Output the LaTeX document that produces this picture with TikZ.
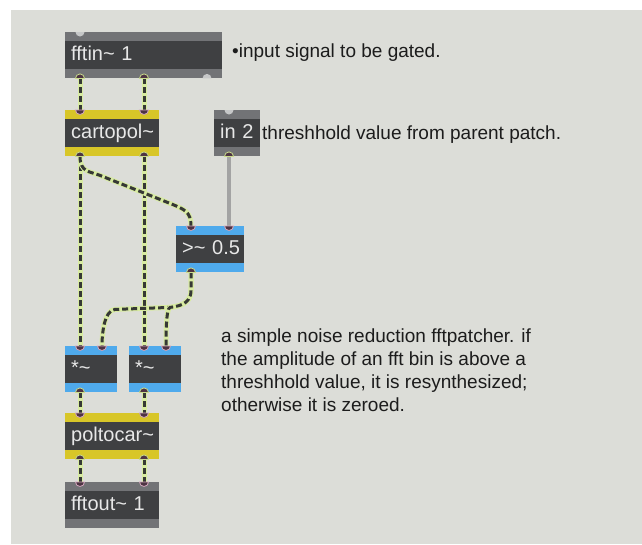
\documentclass[tikz,border=0pt]{standalone}
\usepackage{fontspec}
\setmainfont{Liberation Sans}

\definecolor{patchbg}{HTML}{DCDDD8}
\definecolor{boxdark}{HTML}{3F4042}
\definecolor{boxtext}{HTML}{E8E8E8}
\definecolor{stripgray}{HTML}{727376}
\definecolor{stripyellow}{HTML}{D8C628}
\definecolor{stripblue}{HTML}{4FAAEC}
\definecolor{cordlight}{HTML}{D8EBA2}
\definecolor{corddark}{HTML}{363835}
\definecolor{cordgray}{HTML}{A3A3A3}
\definecolor{portdark}{HTML}{4E3443}
\definecolor{portpink}{HTML}{D2A6BC}
\definecolor{portgreen}{HTML}{C9DC8C}
\definecolor{portidle}{HTML}{C6C7C8}
\definecolor{notetext}{HTML}{1C1C1C}

% inlet hanging from the top edge, outlet rising from the bottom edge
\newcommand\portin[3][inport]{\filldraw[#1] ([xshift=#3pt]#2.north west) ++(-4.5pt,0pt) arc[start angle=180,end angle=360,radius=4.5pt] -- cycle;}
\newcommand\portout[3][outport]{\filldraw[#1] ([xshift=#3pt]#2.south west) ++(-4.5pt,0pt) arc[start angle=180,end angle=0,radius=4.5pt] -- cycle;}

\begin{document}
\begin{tikzpicture}[x=1pt,y=-1pt,
  box/.style n args={3}{anchor=north west, fill=#1, minimum width=#2pt,
    minimum height=46pt, text width=#3pt, inner xsep=6pt, inner ysep=0pt,
    align=left, text height=14pt, text depth=4pt, text=boxtext,
    font=\fontsize{20}{24}\selectfont,
    path picture={\fill[boxdark]
      ([yshift=-9pt]path picture bounding box.north west) rectangle
      ([yshift=9pt]path picture bounding box.south east);}},
  sig/.style={draw=corddark, line width=3pt, dash pattern=on 6pt off 3pt,
    preaction={draw=cordlight, line width=5pt, solid}},
  ctl/.style={draw=cordgray, line width=4pt},
  inport/.style={fill=portdark, draw=portpink, line width=0.8pt},
  outport/.style={fill=portdark, draw=portgreen, line width=0.8pt},
  idle/.style={fill=portidle, draw=none},
  note/.style={inner sep=0pt, text=notetext, font=\fontsize{19}{23}\selectfont},
]
\useasboundingbox (0,0) rectangle (642,544);
\fill[white] (0,0) rectangle (642,544);
\fill[patchbg] (11,10) rectangle (642,544);

% objects
\node[box={stripgray}{157}{145}] (fftin) at (65,32) {\mbox{fftin\textasciitilde{} 1}};
\node[box={stripyellow}{94}{82}] (cartopol) at (65,110) {\mbox{cartopol\textasciitilde}};
\node[box={stripgray}{46}{34}] (in2) at (214,110) {\mbox{in 2}};
\node[box={stripblue}{68}{56}] (gt) at (176,226) {\mbox{>\textasciitilde{} 0.5}};
\node[box={stripblue}{52}{40}] (mul1) at (65,346) {\mbox{*\textasciitilde}};
\node[box={stripblue}{52}{40}] (mul2) at (129,346) {\mbox{*\textasciitilde}};
\node[box={stripyellow}{94}{82}] (poltocar) at (65,413) {\mbox{poltocar\textasciitilde}};
\node[box={stripgray}{94}{82}] (fftout) at (65,482) {\mbox{fftout\textasciitilde{} 1}};

% patch cords
\draw[sig] ([xshift=15pt]fftin.south west) -- ([xshift=15pt]cartopol.north west);
\draw[sig] ([xshift=79pt]fftin.south west) -- ([xshift=79pt]cartopol.north west);
\draw[sig] ([xshift=15pt]cartopol.south west) -- ([xshift=15pt]mul1.north west);
\draw[sig] ([xshift=79pt]cartopol.south west) -- ([xshift=15pt]mul2.north west);
\draw[sig] ([xshift=15pt]cartopol.south west)
  .. controls +(0,16) and +(-10,-4) .. ++(20,19) -- ++(70,28)
  .. controls +(15,6) and +(0,-14) .. ([xshift=15pt]gt.north west);
\draw[ctl] ([xshift=15pt]in2.south west) -- ([xshift=53pt]gt.north west);
\draw[sig] ([xshift=15pt]gt.south west) -- ++(0,18)
  .. controls +(0,15) and +(6,-1) .. ++(-21,17) -- ++(-55,2)
  .. controls +(-11,1) and +(0,-12) .. ([xshift=37pt]mul1.north west);
\draw[sig] ([xshift=15pt]gt.south west) -- ++(0,18)
  .. controls +(0,15) and +(6,-1) .. ++(-21,17)
  .. controls +(-4,1) and +(0,-10) .. ([xshift=37pt]mul2.north west);
\draw[sig] ([xshift=15pt]mul1.south west) -- ([xshift=15pt]poltocar.north west);
\draw[sig] ([xshift=15pt]mul2.south west) -- ([xshift=79pt]poltocar.north west);
\draw[sig] ([xshift=15pt]poltocar.south west) -- ([xshift=15pt]fftout.north west);
\draw[sig] ([xshift=79pt]poltocar.south west) -- ([xshift=79pt]fftout.north west);

% inlets and outlets
\portin[idle]{fftin}{15}
\portout{fftin}{15} \portout{fftin}{79} \portout[idle]{fftin}{142}
\portin{cartopol}{15} \portin{cartopol}{79}
\portout{cartopol}{15} \portout{cartopol}{79}
\portin[idle]{in2}{15} \portout{in2}{15}
\portin{gt}{15} \portin{gt}{53} \portout{gt}{15}
\portin{mul1}{15} \portin{mul1}{37} \portout{mul1}{15}
\portin{mul2}{15} \portin{mul2}{37} \portout{mul2}{15}
\portin{poltocar}{15} \portin{poltocar}{79}
\portout{poltocar}{15} \portout{poltocar}{79}
\portin{fftout}{15} \portin{fftout}{79}

% comments
\node[note, anchor=base west] (c1) at (232,57) {•input signal to be gated.};
\node[note, anchor=base west] (c2) at (262,139) {threshhold value from parent patch.};
\node[note, anchor=north west, align=left] (c3) at (221,328.2)
  {a simple noise reduction fftpatcher. if\\
   the amplitude of an fft bin is above a\\
   threshhold value, it is resynthesized;\\
   otherwise it is zeroed.};
\end{tikzpicture}
\end{document}
